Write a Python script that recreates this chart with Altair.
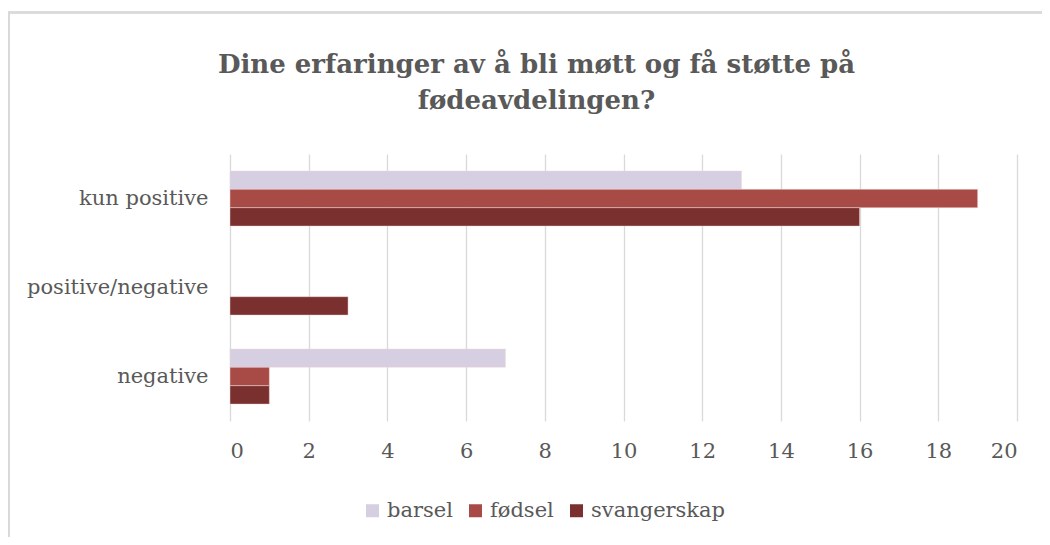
import altair as alt
import pandas as pd

categories = ["kun positive", "positive/negative", "negative"]
series = ["barsel", "fødsel", "svangerskap"]
barsel = [13, 0, 7]
fodsel = [19, 0, 1]
svangerskap = [16, 3, 1]
colors = ["#D6CEE1", "#A84A45", "#79302E"]
x_ticks = [0, 2, 4, 6, 8, 10, 12, 14, 16, 18, 20]

rows = []
for i, c in enumerate(categories):
    for s, vals in zip(series, [barsel, fodsel, svangerskap]):
        rows.append({"kategori": c, "serie": s, "verdi": vals[i]})
df = pd.DataFrame(rows)

FONT = "DejaVu Serif"
TXT = "#595959"

bars = alt.Chart(df).mark_bar(stroke="#f2d9d9", strokeWidth=0.6, strokeOpacity=0.8).encode(
    y=alt.Y("kategori:N", sort=categories, title=None,
            scale=alt.Scale(domain=categories, paddingInner=0.38, paddingOuter=0.19),
            axis=alt.Axis(ticks=False, domain=False, labelFontSize=21, labelColor=TXT,
                          labelFont=FONT, labelPadding=22, grid=False, labelLimit=400)),
    yOffset=alt.YOffset("serie:N", sort=series,
                        scale=alt.Scale(domain=series, paddingInner=0, paddingOuter=0)),
    x=alt.X("verdi:Q", title=None, scale=alt.Scale(domain=[0, 20], nice=False),
            axis=alt.Axis(values=x_ticks, ticks=False, domain=False, grid=True,
                          gridColor="#d9d9d9", gridWidth=1.3, labelFontSize=21,
                          labelColor=TXT, labelFont=FONT, labelPadding=19)),
    color=alt.Color("serie:N", sort=series, scale=alt.Scale(domain=series, range=colors),
                    legend=alt.Legend(title=None, orient="none", direction="horizontal",
                                      legendX=132, legendY=346, symbolType="square",
                                      symbolSize=169, symbolStrokeWidth=0, labelFontSize=21,
                                      labelColor=TXT, labelFont=FONT, labelOffset=4,
                                      columnPadding=12)),
).transform_filter("datum.verdi > 0")

frame_top = alt.Chart(df).mark_rule(color="#d9d9d9", strokeWidth=1.5).encode(
    x=alt.value(-222), x2=alt.value(812), y=alt.value(-141.5)
)
frame_left = alt.Chart(df).mark_rule(color="#d9d9d9", strokeWidth=1.5).encode(
    x=alt.value(-221), y=alt.value(-142), y2=alt.value(383)
)

chart = alt.layer(bars, frame_top, frame_left).properties(
    width=787,
    height=267,
    autosize=alt.AutoSizeParams(type="none"),
    padding={"left": 222, "top": 146, "right": 25, "bottom": 116},
    title=alt.TitleParams(
        text=["Dine erfaringer av å bli møtt og få støtte på", "fødeavdelingen?"],
        font=FONT, fontSize=26, fontWeight="bold", color=TXT, anchor="middle",
        dx=-87, dy=143, offset=40, lineHeight=36,
    ),
).configure_view(stroke=None)

chart.save("out.html", embed_options={"renderer": "svg", "actions": False})
